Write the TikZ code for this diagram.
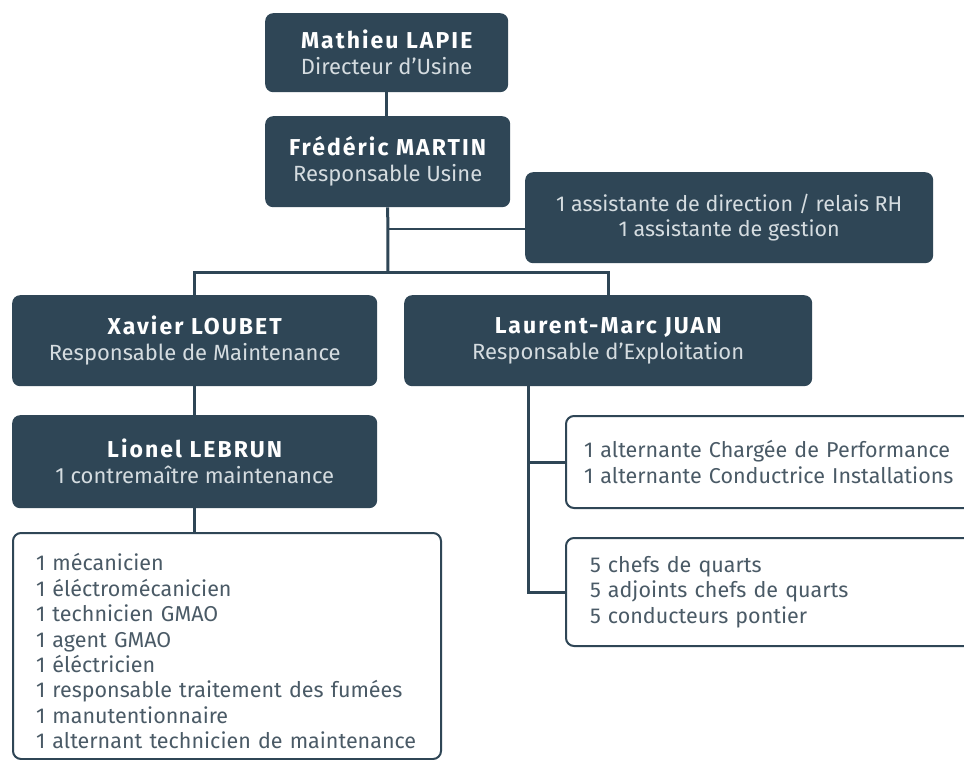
\documentclass[tikz,border=0pt]{standalone}
\usepackage{fontspec}
\setmainfont{Fira Sans}
\newfontfamily\nomfont[LetterSpace=9]{Fira Sans}
\usetikzlibrary{positioning}
\definecolor{ardoise}{HTML}{2F4656}
\definecolor{gristexte}{HTML}{4A5A66}
\definecolor{grisclair}{HTML}{D5DCE0}
\newcommand{\poste}[2]{{\nomfont\fontsize{23}{26}\selectfont\bfseries #1}\\{\color{grisclair}#2}}
\tikzset{
  x=1pt, y=-1pt,
  chef/.style={fill=ardoise, rounded corners=8pt, text=white, align=center,
    anchor=north west, inner sep=0pt, font=\fontsize{22}{26}\selectfont},
  liste/.style={draw=ardoise, line width=2pt, rounded corners=8pt, text=gristexte,
    align=left, anchor=north west, font=\fontsize{21.5}{25.4}\selectfont},
  lien/.style={draw=ardoise, line width=3pt},
}

\begin{document}
\begin{tikzpicture}
  \fill[white] (0,0) rectangle (964,760);
  \useasboundingbox (0,0) rectangle (964,760);

  % direction
  \node[chef, minimum width=243pt, minimum height=79pt] (lapie) at (265,13)
    {\poste{Mathieu LAPIE}{Directeur d'Usine}};
  \node[chef, minimum width=245pt, minimum height=91pt] (martin) at (265,116)
    {\poste{Frédéric MARTIN}{Responsable Usine}};
  \node[chef, minimum width=408pt, minimum height=91pt, text=grisclair,
    font=\fontsize{21.5}{25}\selectfont] (assist) at (525,172)
    {1 assistante de direction / relais RH\\1 assistante de gestion};

  % responsables
  \node[chef, minimum width=365pt, minimum height=91pt] (loubet) at (12,295)
    {\poste{Xavier LOUBET}{Responsable de Maintenance}};
  \node[chef, minimum width=408pt, minimum height=91pt] (juan) at (404,295)
    {\poste{Laurent-Marc JUAN}{Responsable d'Exploitation}};
  \node[chef, minimum width=365pt, minimum height=93pt] (lebrun) at (12,415)
    {\poste{Lionel LEBRUN}{1 contremaître maintenance}};

  % equipes
  \node[liste, minimum width=428pt, minimum height=226pt, inner xsep=23pt,
    text width=382pt] (maint) at (12,532)
    {\rule{0pt}{28pt}1 mécanicien\\1 éléctromécanicien\\1 technicien GMAO\\1 agent GMAO\\
     1 éléctricien\\1 responsable traitement des fumées\\1 manutentionnaire\\
     1 alternant technicien de maintenance};
  \node[liste, minimum width=450pt, minimum height=92pt, inner xsep=18pt,
    text width=414pt] (altern) at (565,415)
    {1 alternante Chargée de Performance\\1 alternante Conductrice Installations};
  \node[liste, minimum width=450pt, minimum height=108pt, inner xsep=24pt,
    text width=402pt] (quarts) at (565,537)
    {5 chefs de quarts\\5 adjoints chefs de quarts\\5 conducteurs pontier};

  % liens
  \coordinate (bus) at (388,272);
  \coordinate (relais) at ([xshift=-80pt]juan.south);
  \draw[lien] (lapie.south) -- (lapie.south |- martin.north);
  \draw[lien] (martin.south) -- (bus);
  \draw[lien, line width=2pt] ([yshift=-11pt]assist.west) -- ([yshift=-11pt]assist.west -| bus);
  \draw[lien] (loubet.north) |- (bus) -| (juan.north);
  \draw[lien] (loubet.south) -- (lebrun.north);
  \draw[lien] (lebrun.south) -- (lebrun.south |- maint.north);
  \draw[lien] (relais) |- (quarts.west);
  \draw[lien] (altern.west) -- (altern.west -| relais);
\end{tikzpicture}
\end{document}
